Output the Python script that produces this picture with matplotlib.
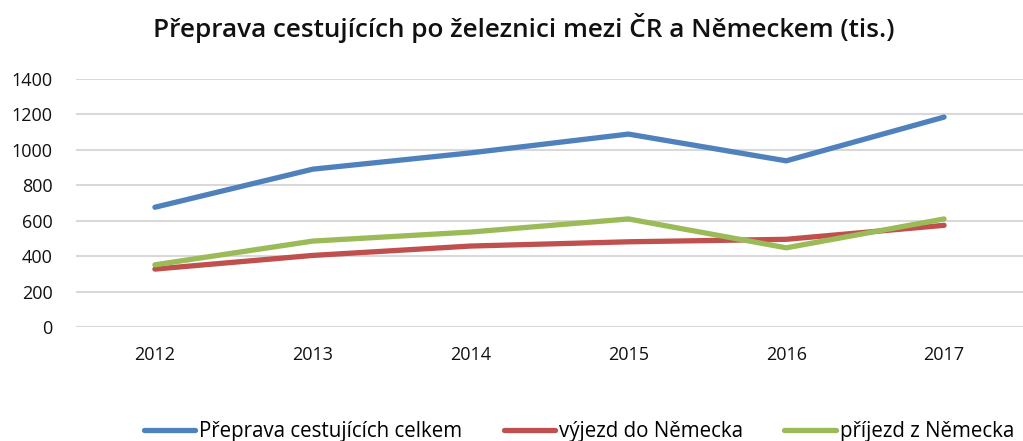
import matplotlib
matplotlib.use("Agg")
import matplotlib.pyplot as plt

# ── data (thousands of passengers) ─────────────────────────────────────────────
years   = ["2012", "2013", "2014", "2015", "2016", "2017"]
celkem  = [676, 891, 983, 1089, 938, 1185]     # Přeprava cestujících celkem
vyjezd  = [327, 404, 457, 481, 495, 574]       # výjezd do Německa
prijezd = [351, 485, 536, 610, 447, 610]       # příjezd z Německa

labels = ["Přeprava cestujících celkem", "výjezd do Německa", "příjezd z Německa"]
colors = ["#4F81BD", "#C0504D", "#9BBB59"]

plt.rcParams["font.family"] = ["Open Sans", "DejaVu Sans"]

fig = plt.figure(figsize=(10.23, 4.41), dpi=100)
ax = fig.add_axes([76 / 1023, 1 - 327 / 441, 1 - 76 / 1023, (327 - 79) / 441])

x = range(len(years))
for vals, lab, col in zip([celkem, vyjezd, prijezd], labels, colors):
    ax.plot(x, vals, color=col, lw=3.8, label=lab, solid_capstyle="round",
            solid_joinstyle="round")

ax.set_xlim(-0.5, len(years) - 0.5)
ax.set_ylim(0, 1400)
ax.set_yticks(range(0, 1401, 200))
ax.set_xticks(list(x))
ax.set_xticklabels(years)
ax.tick_params(axis="both", length=0, labelsize=13, colors="#111111")
ax.tick_params(axis="x", pad=14)
ax.tick_params(axis="y", pad=17)

ax.grid(axis="y", color="#D9D9D9", lw=1.5)
ax.set_axisbelow(True)
for s in ax.spines.values():
    s.set_visible(False)

fig.text(524 / 1023, 1 - 28 / 441, "Přeprava cestujících po železnici mezi ČR a Německem (tis.)",
         ha="center", va="center", fontsize=18.8, fontweight="semibold", color="#111111")

fig.legend(loc="center", bbox_to_anchor=(0.566, 1 - 432 / 441), ncol=3, frameon=False,
           fontsize=14.8, handlelength=2.5, handletextpad=0.2, columnspacing=2.0)

fig.savefig("out.png", dpi=100)
